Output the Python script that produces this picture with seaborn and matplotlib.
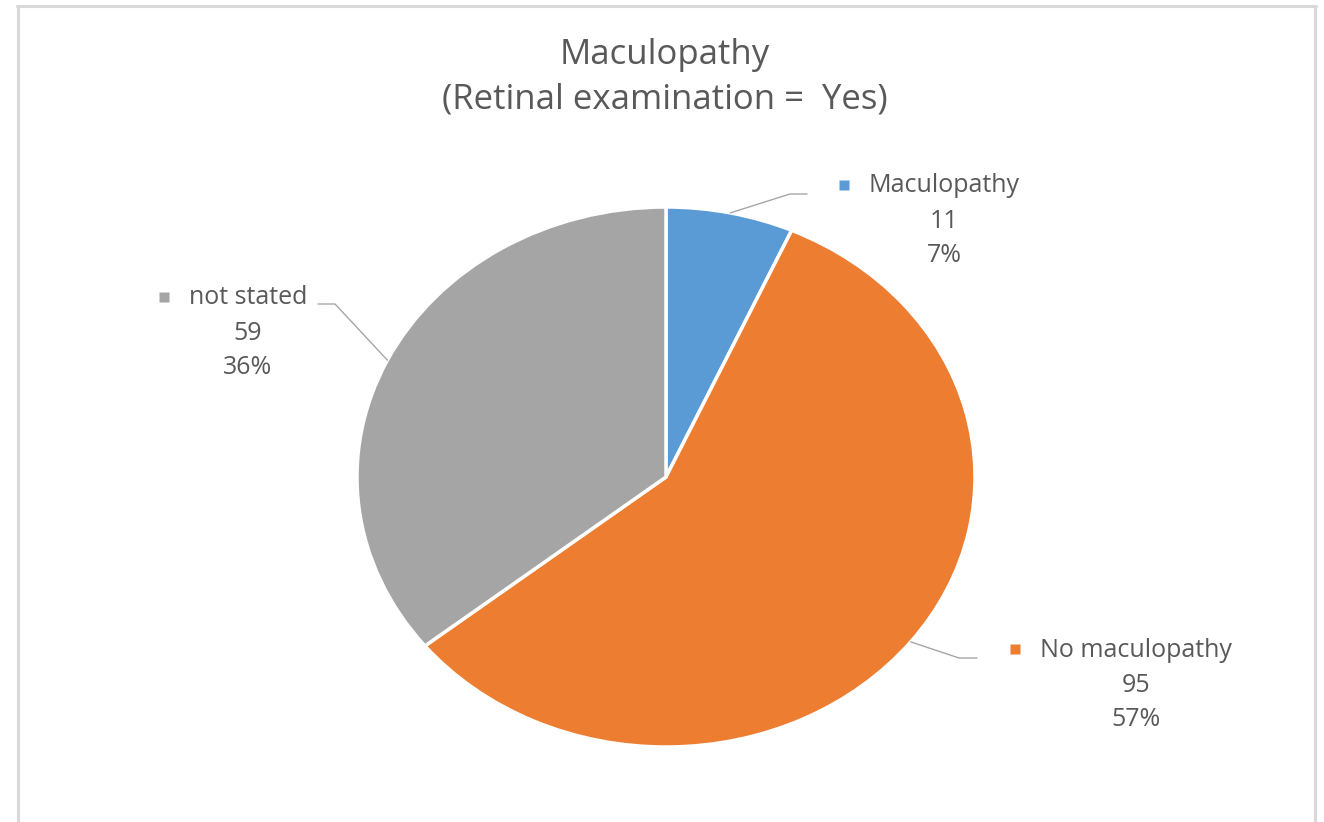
import matplotlib
matplotlib.use("Agg")
import matplotlib.pyplot as plt
from matplotlib.lines import Line2D
import numpy as np
import seaborn as sns

# data
categories = ["Maculopathy", "No maculopathy", "not stated"]
counts = [11, 95, 59]
pct_labels = ["7%", "57%", "36%"]
colors = ["#5B9BD5", "#ED7D31", "#A5A5A5"]
title_lines = ["Maculopathy", "(Retinal examination =  Yes)"]

sns.set_theme(style="white")
plt.rcParams["font.family"] = ["Open Sans", "DejaVu Sans"]

W, H = 1324, 822
CX, CY, RX, RY = 666, 477, 309, 270   # pie centre / radii in pixels (pie is stretched)
TXT = "#595959"


def px(x, y):
    # pixel position -> data coords of the pie axes
    return (x - CX) / RX, (CY - y) / RY


fig = plt.figure(figsize=(W / 100, H / 100), dpi=100)
ax = fig.add_axes([0, 0, 1, 1])
wedges, _ = ax.pie(counts, colors=colors, startangle=90, counterclock=False,
                   wedgeprops=dict(edgecolor="white", linewidth=2.5))
ax.set_aspect("auto")
ax.set_xlim(-CX / RX, (W - CX) / RX)
ax.set_ylim((CY - H) / RY, CY / RY)
ax.axis("off")

# label blocks: (elbow, line end, text centre x, first line y)
label_pos = [
    ((790, 194), (807, 194), 944, 186),
    ((959, 658), (977, 658), 1136, 650),
    ((335, 304), (318, 304), 248, 298),
]

fig.canvas.draw()
renderer = fig.canvas.get_renderer()
for w, cat, n, pct, col, (elbow, end, tx, ty) in zip(wedges, categories, counts,
                                                      pct_labels, colors, label_pos):
    mid = np.deg2rad((w.theta1 + w.theta2) / 2)
    start = (np.cos(mid), np.sin(mid))
    pts = [start, px(*elbow), px(*end)]
    ax.plot([p[0] for p in pts], [p[1] for p in pts], color="#A6A6A6", lw=1.0)
    name = ax.text(*px(tx, ty), cat, ha="center", va="center", fontsize=18, color=TXT)
    ax.text(*px(tx, ty + 35), str(n), ha="center", va="center", fontsize=18, color=TXT)
    ax.text(*px(tx, ty + 69), pct, ha="center", va="center", fontsize=18, color=TXT)
    bb = name.get_window_extent(renderer)
    mx = bb.x0 - 25
    ax.plot(*px(mx, ty - 1), marker="s", ms=7, color=col, mec="none")

fig.text(665 / W, 1 - 55 / H, title_lines[0], ha="center", va="center",
         fontsize=25, color=TXT)
fig.text(665 / W, 1 - 100 / H, title_lines[1], ha="center", va="center",
         fontsize=25, color=TXT)

# light chart frame (bottom edge is cut off in the original)
frame = dict(color="#D9D9D9", lw=2.2, transform=fig.transFigure)
fig.add_artist(Line2D([18 / W, 18 / W], [0, 1 - 6 / H], **frame))
fig.add_artist(Line2D([1315 / W, 1315 / W], [0, 1 - 6 / H], **frame))
fig.add_artist(Line2D([17 / W, 1316 / W], [1 - 6 / H, 1 - 6 / H], **frame))

fig.savefig("out.png", dpi=100, facecolor="white")
